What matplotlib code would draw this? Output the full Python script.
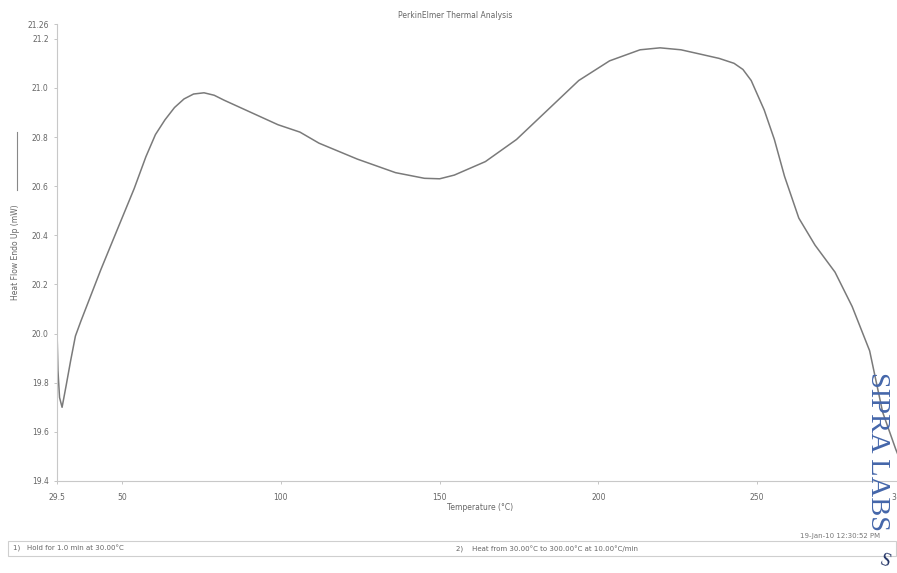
import matplotlib
matplotlib.use("Agg")
import matplotlib.pyplot as plt
from matplotlib.lines import Line2D
from matplotlib.patches import Rectangle

# ---- data ----
temperature = [29.5, 29.8, 30.3, 31.1, 32.4, 33.8, 35.3, 37.0, 43.3, 48.7,
               53.8, 57.5, 60.5, 63.5, 66.5, 69.5, 72.5, 75.8, 79.0, 82.1,
               90.6, 99.1, 106.0, 112.0, 124.1, 136.1, 145.2, 150.0, 154.6, 164.4,
               174.2, 184.0, 193.8, 203.5, 213.1, 219.4, 226.0, 232.2, 238.0, 242.7,
               245.5, 248.1, 252.2, 255.4, 258.6, 263.1, 268.2, 274.5, 279.9, 285.4,
               289.5, 293.6, 297.0]
heat_flow = [20.015, 19.85, 19.74, 19.70, 19.79, 19.89, 19.99, 20.05, 20.26, 20.43,
             20.59, 20.72, 20.81, 20.87, 20.92, 20.955, 20.975, 20.98, 20.97, 20.95,
             20.90, 20.85, 20.82, 20.775, 20.71, 20.655, 20.632, 20.63, 20.645, 20.70,
             20.79, 20.91, 21.03, 21.11, 21.155, 21.163, 21.155, 21.137, 21.12, 21.10,
             21.075, 21.03, 20.91, 20.79, 20.64, 20.47, 20.36, 20.25, 20.11, 19.93,
             19.68, 19.53, 19.42]

x_ticks = [29.5, 50, 100, 150, 200, 250, 300]
x_tick_labels = ["29.5", "50", "100", "150", "200", "250", ""]
y_ticks = [19.4, 19.6, 19.8, 20.0, 20.2, 20.4, 20.6, 20.8, 21.0, 21.2, 21.26]
y_tick_labels = ["19.4", "19.6", "19.8", "20.0", "20.2", "20.4", "20.6", "20.8",
                 "21.0", "21.2", "21.26"]

W, H = 897, 573
fig = plt.figure(figsize=(W / 100, H / 100), dpi=100)
fig.patch.set_facecolor("white")

left_px, right_px, top_px, bottom_px = 57, 916, 24, 481
ax = fig.add_axes([left_px / W, 1 - bottom_px / H,
                   (right_px - left_px) / W, (bottom_px - top_px) / H])

ax.plot(temperature, heat_flow, color="#7a7a7a", lw=1.1, solid_joinstyle="round",
        solid_capstyle="round")
ax.set_xlim(29.5, 300)
ax.set_ylim(19.4, 21.26)

ax.set_xticks(x_ticks)
ax.set_xticklabels(x_tick_labels)
ax.set_yticks(y_ticks)
ax.set_yticklabels(y_tick_labels)
ax.tick_params(axis="both", labelsize=5.5, labelcolor="#666666", color="#bbbbbb",
               length=2.5, width=0.6, direction="out")
ax.tick_params(axis="x", pad=6)

for s in ["top", "right"]:
    ax.spines[s].set_visible(False)
for s in ["left", "bottom"]:
    ax.spines[s].set_color("#c8c8c8")
    ax.spines[s].set_linewidth(0.8)

# last x tick label (axis runs past the page edge, as in the scan)
fig.text(896.5 / W, 1 - 497 / H, "3", ha="right", va="center",
         fontsize=5.5, color="#666666")

# title and axis labels
fig.text(455 / W, 1 - 16 / H, "PerkinElmer Thermal Analysis", ha="center", va="center",
         fontsize=5.5, color="#666666")
fig.text(480 / W, 1 - 508 / H, "Temperature (°C)", ha="center", va="center",
         fontsize=5.5, color="#666666")
fig.text(15 / W, 1 - 252 / H, "Heat Flow Endo Up (mW)", ha="center", va="center",
         rotation=90, fontsize=5.5, color="#666666")
fig.add_artist(Line2D([17 / W, 17 / W], [1 - 132 / H, 1 - 190 / H],
                      color="#888888", lw=0.8))

# bottom method box
fig.add_artist(Rectangle((8 / W, 1 - 556 / H), (W - 9) / W, 15 / H,
                         transform=fig.transFigure, fill=False,
                         edgecolor="#cfcfcf", lw=0.8))
fig.text(13 / W, 1 - 548 / H, "1)   Hold for 1.0 min at 30.00°C", ha="left", va="center",
         fontsize=5, color="#666666")
fig.text(456 / W, 1 - 549 / H, "2)    Heat from 30.00°C to 300.00°C at 10.00°C/min",
         ha="left", va="center", fontsize=5, color="#666666")
fig.text(880 / W, 1 - 536 / H, "19-Jan-10 12:30:52 PM", ha="right", va="center",
         fontsize=5, color="#777777")

# watermark
fig.text(877 / W, 1 - 452 / H, "SIPRA LABS", ha="center", va="center", rotation=-90,
         fontsize=20.5, color="#4466aa", family="Liberation Serif", zorder=10)
fig.text(885 / W, 1 - 562 / H, "S", ha="center", va="center", rotation=-20,
         fontsize=13, color="#223366", family="Liberation Serif", zorder=10)

fig.savefig("out.png", dpi=100, facecolor="white")
